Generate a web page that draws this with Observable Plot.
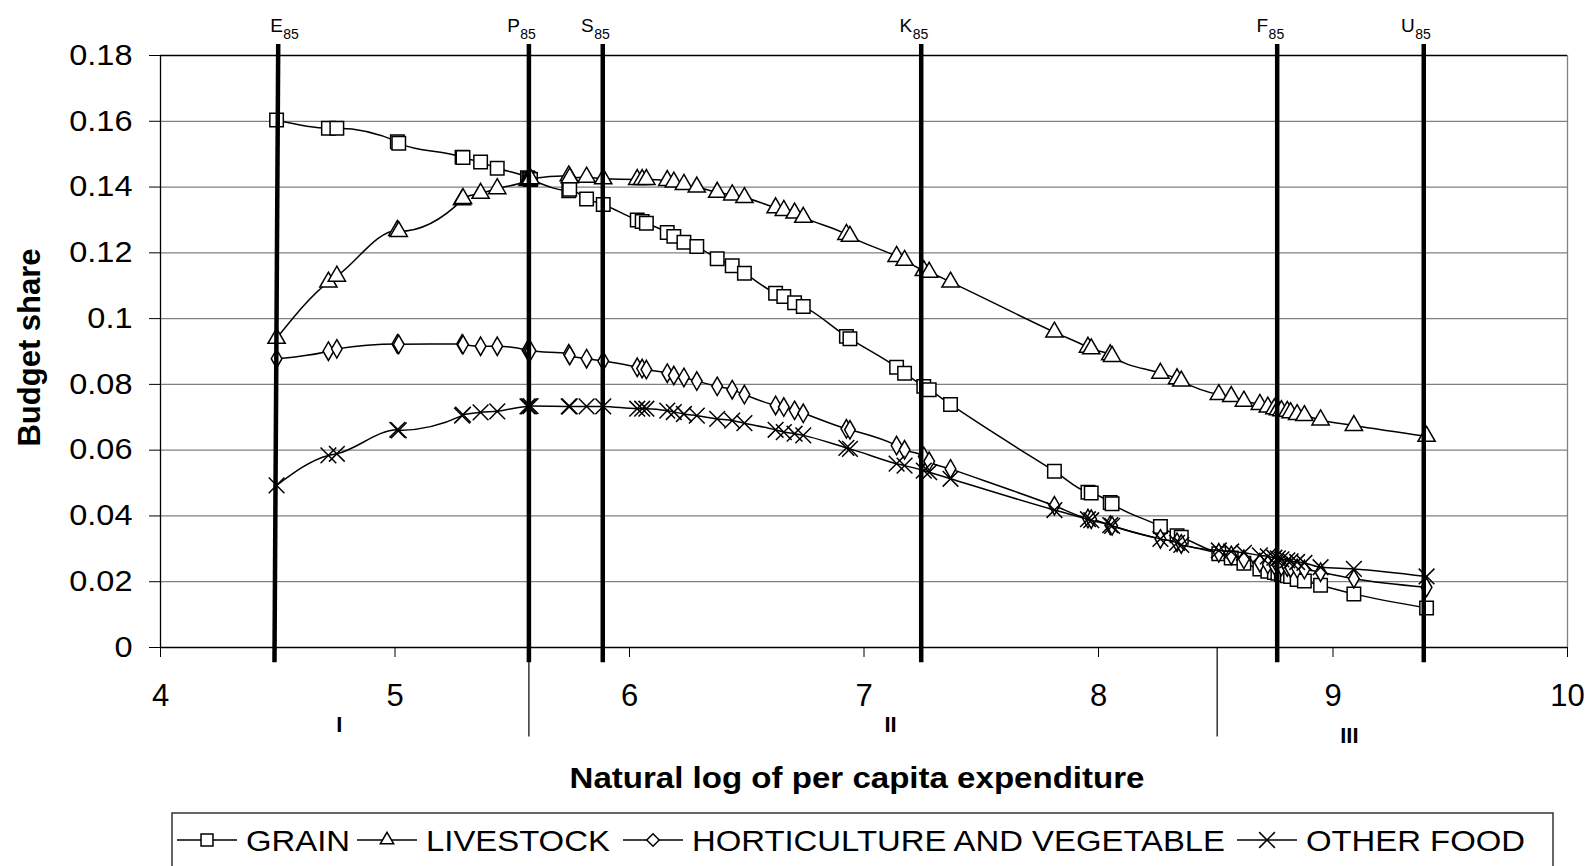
<!DOCTYPE html>
<html><head><meta charset="utf-8">
<script src="https://cdn.jsdelivr.net/npm/d3@7"></script>
<script src="https://cdn.jsdelivr.net/npm/@observablehq/plot@0.6"></script>
<style>
body{margin:0;background:#fff;font-family:"Liberation Sans",Arial,sans-serif;}
#chart svg{display:block;}
</style></head><body><div id="chart"></div><script>
// ---- data ----
const X = [4.495,4.716,4.752,5.010,5.016,5.286,5.290,5.365,5.436,5.565,5.571,5.578,5.741,5.745,5.817,5.888,6.033,6.054,6.072,6.161,6.189,6.232,6.287,6.374,6.438,6.490,6.623,6.658,6.704,6.741,6.925,6.940,7.139,7.173,7.255,7.278,7.369,7.812,7.955,7.969,8.050,8.058,8.264,8.335,8.353,8.513,8.566,8.620,8.688,8.722,8.750,8.765,8.780,8.805,8.819,8.847,8.878,8.947,9.089,9.399];
const grain = [0.1604,0.1579,0.1579,0.1538,0.1533,0.1491,0.1490,0.1476,0.1457,0.1428,0.1425,0.1423,0.1389,0.1393,0.1364,0.1347,0.1300,0.1295,0.1290,0.1262,0.1250,0.1232,0.1219,0.1182,0.1161,0.1138,0.1077,0.1067,0.1048,0.1037,0.0946,0.0939,0.0852,0.0834,0.0794,0.0784,0.0739,0.0536,0.0472,0.0470,0.0441,0.0437,0.0368,0.0340,0.0335,0.0285,0.0272,0.0256,0.0239,0.0232,0.0228,0.0226,0.0222,0.0218,0.0216,0.0207,0.0202,0.0189,0.0163,0.0120];
const livestock = [0.0940,0.1111,0.1129,0.1268,0.1265,0.1361,0.1365,0.1381,0.1395,0.1420,0.1422,0.1425,0.1434,0.1428,0.1430,0.1425,0.1423,0.1423,0.1423,0.1420,0.1415,0.1408,0.1400,0.1384,0.1376,0.1368,0.1337,0.1329,0.1321,0.1308,0.1256,0.1250,0.1189,0.1177,0.1146,0.1141,0.1111,0.0959,0.0913,0.0908,0.0890,0.0885,0.0834,0.0817,0.0810,0.0769,0.0763,0.0749,0.0739,0.0731,0.0726,0.0723,0.0720,0.0718,0.0714,0.0708,0.0705,0.0692,0.0675,0.0642];
const horticulture = [0.0878,0.0901,0.0908,0.0923,0.0922,0.0923,0.0921,0.0916,0.0916,0.0904,0.0903,0.0902,0.0893,0.0888,0.0878,0.0871,0.0852,0.0848,0.0845,0.0834,0.0827,0.0821,0.0810,0.0794,0.0784,0.0769,0.0736,0.0731,0.0721,0.0712,0.0665,0.0662,0.0614,0.0601,0.0581,0.0566,0.0543,0.0431,0.0392,0.0390,0.0372,0.0370,0.0330,0.0320,0.0315,0.0288,0.0280,0.0268,0.0258,0.0253,0.0250,0.0249,0.0247,0.0245,0.0242,0.0240,0.0237,0.0229,0.0209,0.0183];
const otherFood = [0.0493,0.0584,0.0589,0.0662,0.0660,0.0705,0.0708,0.0715,0.0718,0.0733,0.0733,0.0734,0.0733,0.0733,0.0733,0.0733,0.0726,0.0726,0.0726,0.0720,0.0716,0.0710,0.0705,0.0695,0.0690,0.0682,0.0662,0.0655,0.0650,0.0645,0.0607,0.0604,0.0559,0.0553,0.0538,0.0533,0.0513,0.0418,0.0390,0.0387,0.0372,0.0370,0.0330,0.0318,0.0312,0.0295,0.0292,0.0288,0.0280,0.0277,0.0273,0.0271,0.0268,0.0265,0.0262,0.0260,0.0257,0.0244,0.0239,0.0216];
const seriesNames = ["GRAIN","LIVESTOCK","HORTICULTURE AND VEGETABLE","OTHER FOOD"];
const seriesSymbols = ["square","triangle","diamond","times"];
const refLabels = ["E","P","S","K","F","U"];
const refSub = "85";
const refX = [4.502,5.571,5.886,7.244,8.762,9.387];
const refXBottom = [4.486,5.571,5.886,7.244,8.762,9.387];
const refLabelAt = [4.56,5.571,5.886,7.244,8.762,9.387];
const regionBounds = [5.571,8.506];
const regionLabels = ["I","II","III"];
const regionX = [4.763,7.113,9.07];
const xTicks = [4,5,6,7,8,9,10];
const yTicks = [0,0.02,0.04,0.06,0.08,0.1,0.12,0.14,0.16,0.18];
const xTitle = "Natural log of per capita expenditure";
const yTitle = "Budget share";

// ---- build ----
const values = [grain, livestock, horticulture, otherFood];
const symR = [7.6, 6.4, 5.6, 7.2];
const rows = seriesNames.map((name, s) => X.map((x, i) => ({series: name, x, y: values[s][i]})));
const refs = refLabels.map((l, i) => ({label: l, x1: refX[i], x2: refXBottom[i], at: refLabelAt[i]}));

const seriesMarks = rows.flatMap((data, s) => [
  Plot.line(data, {x: "x", y: "y", stroke: "#000", strokeWidth: 1.5, curve: "monotone-x"}),
  Plot.dot(data, {x: "x", y: "y", symbol: seriesSymbols[s], r: symR[s], stroke: "#000", fill: "#fff", strokeWidth: 1.5})
]);

const chart = Plot.plot({
  width: 1591, height: 800,
  marginLeft: 160, marginRight: 24, marginTop: 55, marginBottom: 153,
  style: {fontFamily: "'Liberation Sans', Arial, sans-serif", fontSize: "29px", color: "#000", background: "#fff", overflow: "visible"},
  x: {domain: [4, 10]},
  y: {domain: [0, 0.18]},
  marks: [
    Plot.ruleY(yTicks.filter(d => d > 0 && d < 0.18), {stroke: "#808080", strokeWidth: 1.3}),
    Plot.ruleY([0.18], {stroke: "#000", strokeWidth: 1.3}),
    Plot.ruleX([10], {y1: 0, y2: 0.18, stroke: "#808080", strokeWidth: 1.3}),
    Plot.ruleX([4], {y1: 0, y2: 0.18, stroke: "#000", strokeWidth: 1.3}),
    Plot.ruleY([0], {stroke: "#000", strokeWidth: 1.3}),
    Plot.axisX({ticks: xTicks, tickSize: 10, tickPadding: 26, tickFormat: d => String(d), label: null, stroke: "#000"}),
    Plot.axisY({ticks: yTicks, tickSize: 11, tickPadding: 17, tickFormat: d => String(+d.toFixed(2)), label: null, stroke: "#000"}),
    ...seriesMarks,
    Plot.link(refs, {x1: "x1", x2: "x2", y1: 0.1835, y2: -0.0045, stroke: "#000", strokeWidth: 4.5}),
    Plot.text(refs, {x: "at", text: "label", frameAnchor: "top", textAnchor: "end", lineAnchor: "bottom", dy: -24, dx: -9, fontSize: 19}),
    Plot.text(refs, {x: "at", text: () => refSub, frameAnchor: "top", textAnchor: "end", lineAnchor: "bottom", dy: -17, dx: 7, fontSize: 14}),
    Plot.ruleX(regionBounds, {y1: 0, y2: -0.0272, stroke: "#000", strokeWidth: 1.2}),
    Plot.text(regionLabels.slice(0, 2), {x: regionX.slice(0, 2), text: d => d, frameAnchor: "bottom", lineAnchor: "bottom", dy: 84, fontWeight: "bold", fontSize: 22}),
    Plot.text(regionLabels.slice(2), {x: regionX.slice(2), text: d => d, frameAnchor: "bottom", lineAnchor: "bottom", dy: 95, fontWeight: "bold", fontSize: 22}),
    Plot.text([xTitle], {frameAnchor: "bottom", lineAnchor: "bottom", dy: 140, dx: -7, fontWeight: "bold", fontSize: 29, className: "stretch"}),
    Plot.text([yTitle], {frameAnchor: "left", textAnchor: "middle", rotate: -90, dx: -130, dy: -4, fontWeight: "bold", fontSize: 31})
  ]
});
document.getElementById("chart").appendChild(chart);

const svg = d3.select(chart);
svg.selectAll('g[aria-label="x-axis tick label"]').attr("font-size", 31);
svg.selectAll('g[aria-label="y-axis tick label"]').attr("font-size", 29);

function stretch(sel, k) {
  sel.each(function () {
    const L = this.getComputedTextLength();
    if (L > 0) { this.setAttribute("textLength", L * k); this.setAttribute("lengthAdjust", "spacingAndGlyphs"); }
  });
}
stretch(svg.selectAll('g[aria-label="y-axis tick label"] text'), 1.12);
stretch(svg.selectAll('.stretch text'), 1.14);

// ---- legend ----
const legendSampleX = [177, 357, 623, 1237];
const lg = d3.select("#chart").append("svg").attr("width", 1591).attr("height", 66).style("display", "block");
lg.append("rect").attr("x", 172).attr("y", 13).attr("width", 1381).attr("height", 80)
  .attr("fill", "none").attr("stroke", "#333").attr("stroke-width", 1.5);
const symMap = {square: d3.symbolSquare2, triangle: d3.symbolTriangle2, diamond: d3.symbolDiamond2, times: d3.symbolTimes};
seriesNames.forEach((name, s) => {
  const x0 = legendSampleX[s], yc = 40;
  lg.append("line").attr("x1", x0).attr("x2", x0 + 60).attr("y1", yc).attr("y2", yc).attr("stroke", "#000").attr("stroke-width", 1.5);
  lg.append("path").attr("d", d3.symbol(symMap[seriesSymbols[s]], Math.PI * symR[s] * symR[s])())
    .attr("transform", `translate(${x0 + 30},${yc})`).attr("fill", "#fff").attr("stroke", "#000").attr("stroke-width", 1.5);
  const t = lg.append("text").attr("x", x0 + 69).attr("y", 51).attr("font-size", 30).attr("fill", "#000").text(name);
  stretch(t, 1.095);
});
</script></body></html>
